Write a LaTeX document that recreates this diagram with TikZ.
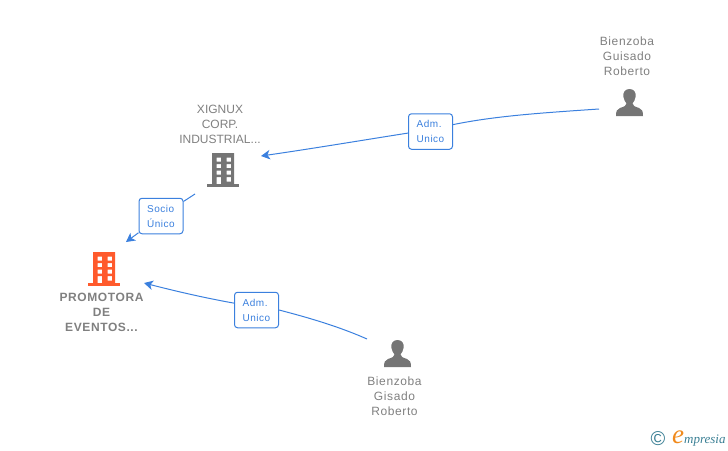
\documentclass[tikz,border=0pt]{standalone}
\usepackage{fontspec}
\setmainfont{Liberation Sans}[LetterSpace=5]
\newfontfamily\plainfont{Liberation Sans}
\newfontfamily\logofont{Liberation Serif}
\usetikzlibrary{arrows.meta}
\definecolor{linkblue}{HTML}{3B80DE}
\definecolor{icongray}{HTML}{757575}
\definecolor{textgray}{HTML}{808080}
\definecolor{orangeicon}{HTML}{FF5A2C}
\definecolor{logoteal}{HTML}{3A7F94}
\definecolor{logoorange}{HTML}{F08A1D}
\tikzset{
  x=1pt,y=-1pt,
  conn/.style={draw=linkblue,line width=1pt},
  tipconn/.style={conn,-{Stealth[length=9pt,width=9.5pt,inset=2.5pt]}},
  linkbox/.style={draw=linkblue,line width=1pt,fill=white,rounded corners=3pt,inner sep=0pt,
    minimum width=44pt,minimum height=35.5pt,align=left,text=linkblue,
    font=\fontsize{10}{15}\selectfont},
  peoplelabel/.style={align=center,text=textgray,inner sep=0pt,font=\fontsize{12}{15}\selectfont},
  companylabel/.style={align=center,text=textgray,inner sep=0pt,font=\fontsize{12}{15}\plainfont},
  mainlabel/.style={align=center,text=textgray,inner sep=0pt,font=\fontsize{12}{15}\selectfont\bfseries},
  pics/building/.style={code={
    \fill[#1,even odd rule] (5,0) rectangle (27,31)
      (9.5,4.5) rectangle (14,8.5) (19.5,4.5) rectangle (24,8.5)
      (9.5,11) rectangle (14,15) (19.5,11) rectangle (24,15)
      (9.5,17.5) rectangle (14,21.5) (19.5,17.5) rectangle (24,21.5)
      (9.5,24) rectangle (14,31) (19.5,24) rectangle (24,28.5);
    \fill[#1] (0,31) rectangle (32,33.5);
  }},
  pics/person/.style={code={
    \fill[icongray] (13.5,0) .. controls (8.5,0) and (7,4) .. (7.3,7.5)
      .. controls (7.5,10.5) and (9.5,13) .. (10.5,14.5)
      .. controls (10.5,17) and (8,17.5) .. (4,19)
      .. controls (1,20) and (0,22) .. (0,27) -- (27,27)
      .. controls (27,22) and (26,20) .. (23,19)
      .. controls (19,17.5) and (16.5,17) .. (16.5,14.5)
      .. controls (17.5,13) and (19.5,10.5) .. (19.7,7.5)
      .. controls (20,4) and (18.5,0) .. (13.5,0) -- cycle;
  }}
}
\begin{document}
\begin{tikzpicture}
\useasboundingbox (0,0) rectangle (728,450);
% icons
\pic at (207,153) {building=icongray};
\pic at (88,252) {building=orangeicon};
\pic at (616,89) {person};
\pic at (384,340) {person};
% labels
\node[peoplelabel] (lbltop) at (627,56) {Bienzoba\\Guisado\\Roberto};
\node[peoplelabel] (lblbot) at (394.5,396) {Bienzoba\\Gisado\\Roberto};
\node[companylabel] (lblx) at (220,124) {XIGNUX\\CORP.\\INDUSTRIAL...};
\node[mainlabel] (lblp) at (101.5,312) {PROMOTORA\\DE\\EVENTOS...};
% link boxes
\node[linkbox] (box1) at (430.5,131.5) {Adm.\\Unico};
\node[linkbox] (box2) at (161,216) {Socio\\Único};
\node[linkbox] (box3) at (256.5,310) {Adm.\\Unico};
% connector ends
\coordinate (t1) at (599,109);
\coordinate (h1) at (261,156);
\coordinate (t2) at (195,194);
\coordinate (h2) at (126,242);
\coordinate (t3) at (367,339);
\coordinate (h3) at (144,283);
% connectors
\draw[conn] (t1) .. controls (540,113) and (495,116) .. (box1.17);
\draw[tipconn] (box1.184) .. controls (370,139) and (310,149) .. (h1);
\draw[conn] (t2) -- (box2);
\draw[tipconn] (box2) -- (h2);
\draw[conn] (t3) .. controls (340,327) and (310,318) .. (box3.east);
\draw[tipconn] (box3.163) .. controls (205,298) and (175,291) .. (h3);
% logo
\node[inner sep=0pt,text=logoteal,font=\fontsize{20}{20}\plainfont] (copy) at (658,438.5) {©};
\node[inner sep=0pt,anchor=base west,font=\fontsize{13}{13}\logofont\itshape,text=logoteal] (logo) at (672,443.5)
  {\textcolor{logoorange}{\fontsize{27}{27}\selectfont e}mpresia};
\end{tikzpicture}
\end{document}
